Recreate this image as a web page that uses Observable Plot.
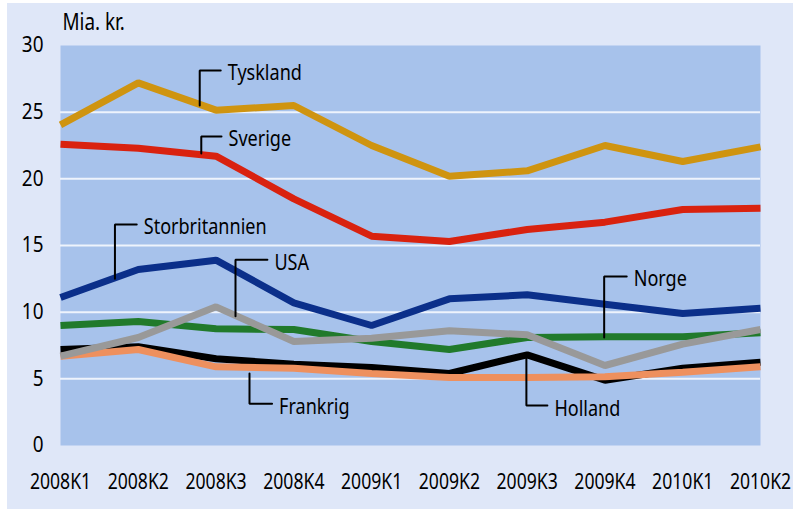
<!DOCTYPE html>
<html>
<head>
<meta charset="utf-8">
<script src="https://cdn.jsdelivr.net/npm/d3@7"></script>
<script src="https://cdn.jsdelivr.net/npm/@observablehq/plot@0.6"></script>
<style>
  html, body { margin: 0; padding: 0; background: #ffffff; }
  #wrap { position: relative; width: 804px; height: 509px; }
  #panel { position: absolute; left: 7px; top: 3px; width: 786px; height: 506px; background: #dfe7f8; }
  #chart { position: absolute; left: 0; top: 0; }
</style>
</head>
<body>
<div id="wrap"><div id="panel"></div><div id="chart"></div></div>
<script>
// Quarters (x categories)
const quarters = ["2008K1","2008K2","2008K3","2008K4","2009K1","2009K2","2009K3","2009K4","2010K1","2010K2"];
// Series values, Mia. kr.
const holland        = [7.2, 7.4, 6.5, 6.1, 5.85, 5.4, 6.8, 4.9, 5.8, 6.25];
const frankrig       = [6.7, 7.2, 5.9, 5.8, 5.4, 5.1, 5.1, 5.15, 5.5, 5.9];
const norge          = [9.0, 9.3, 8.75, 8.7, 7.8, 7.2, 8.1, 8.15, 8.15, 8.45];
const usa            = [6.7, 8.1, 10.4, 7.8, 8.05, 8.6, 8.3, 6.0, 7.6, 8.7];
const storbritannien = [11.1, 13.2, 13.9, 10.7, 9.0, 11.0, 11.3, 10.6, 9.9, 10.3];
const sverige        = [22.6, 22.3, 21.7, 18.5, 15.7, 15.3, 16.2, 16.75, 17.7, 17.8];
const tyskland       = [24.05, 27.2, 25.15, 25.5, 22.5, 20.2, 20.6, 22.5, 21.3, 22.4];
const yTicks = [0, 5, 10, 15, 20, 25, 30];
const gridValues = [5, 10, 15, 20, 25];

const series = [
  {name: "Holland", values: holland, color: "#000000"},
  {name: "Frankrig", values: frankrig, color: "#ee905e"},
  {name: "Norge", values: norge, color: "#217a2b"},
  {name: "USA", values: usa, color: "#999999"},
  {name: "Storbritannien", values: storbritannien, color: "#0b2f8a"},
  {name: "Sverige", values: sverige, color: "#d9220f"},
  {name: "Tyskland", values: tyskland, color: "#cf9410"}
];

// Label call-outs: vertical leader at x0 from yEnd to yElbow, then horizontal to x1, text after x1
const callouts = [
  {name: "Tyskland", x0: 1.79, yEnd: 25.5, yElbow: 28.13, x1: 2.06},
  {name: "Sverige", x0: 1.81, yEnd: 21.9, yElbow: 23.18, x1: 2.07},
  {name: "Storbritannien", x0: 0.70, yEnd: 12.5, yElbow: 16.58, x1: 0.98},
  {name: "USA", x0: 2.25, yEnd: 9.7, yElbow: 13.93, x1: 2.66},
  {name: "Frankrig", x0: 2.43, yEnd: 5.4, yElbow: 3.13, x1: 2.72},
  {name: "Norge", x0: 6.99, yEnd: 8.1, yElbow: 12.68, x1: 7.28},
  {name: "Holland", x0: 5.99, yEnd: 6.9, yElbow: 3.0, x1: 6.26}
];

const font = "'Noto Sans', 'DejaVu Sans Condensed', sans-serif";

const marks = [
  Plot.frame({fill: "#a7c2eb", stroke: null}),
  Plot.ruleY(gridValues, {stroke: "#eef3fc", strokeWidth: 2}),
  ...series.map(s => Plot.line(s.values, {
    x: (d, i) => i, y: d => d, stroke: s.color, strokeWidth: 7,
    strokeLinejoin: "miter", strokeLinecap: "butt"
  })),
  ...callouts.map(c => Plot.line([[c.x0, c.yEnd], [c.x0, c.yElbow], [c.x1, c.yElbow]], {
    x: d => d[0], y: d => d[1], stroke: "#000", strokeWidth: 2, strokeLinejoin: "miter"
  })),
  Plot.text(callouts, {
    x: "x1", y: "yElbow", text: "name", textAnchor: "start", dx: 7, dy: 3,
    fontSize: 22, fill: "#000", lineAnchor: "middle"
  }),
  Plot.axisY(yTicks, {anchor: "left", tickSize: 0, tickPadding: 17, fontSize: 21, label: null}),
  Plot.axisX(d3.range(quarters.length), {
    anchor: "bottom", tickSize: 0, tickPadding: 28, fontSize: 22,
    tickFormat: i => quarters[i], label: null
  }),
  Plot.text(["Mia. kr."], {frameAnchor: "top-left", dx: 2, dy: -23, lineAnchor: "middle", textAnchor: "start", fontSize: 23, fill: "#000"})
];

const chart = Plot.plot({
  width: 804,
  height: 509,
  marginLeft: 60,
  marginRight: 44,
  marginTop: 45,
  marginBottom: 64,
  x: {domain: [0, quarters.length - 1], axis: null},
  y: {domain: [0, 30], axis: null},
  style: {background: "transparent", fontFamily: font, color: "#000"},
  marks
});
document.getElementById("chart").appendChild(chart);

// Condense the text horizontally to mimic the narrow typeface of the original
chart.querySelectorAll("text").forEach(t => {
  const g = t.closest("g[aria-label]");
  const label = g ? g.getAttribute("aria-label") : "";
  const f = /y-axis/.test(label) ? 0.9 : /x-axis/.test(label) ? 0.8 : 0.82;
  const w = t.getComputedTextLength();
  if (w > 0) {
    t.setAttribute("textLength", (w * f).toFixed(2));
    t.setAttribute("lengthAdjust", "spacingAndGlyphs");
  }
});
</script>
</body>
</html>
